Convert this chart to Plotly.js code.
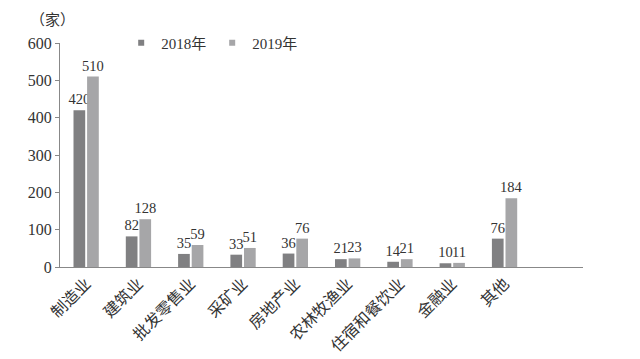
<!DOCTYPE html>
<html><head><meta charset="utf-8">
<script src="https://cdn.plot.ly/plotly-3.0.1.min.js"></script>
<style>html,body{margin:0;padding:0;background:#fff;}#chart{width:640px;height:359px;}</style>
</head><body><div id="chart"></div>
<script>
const categories = ["制造业","建筑业","批发零售业","采矿业","房地产业","农林牧渔业","住宿和餐饮业","金融业","其他"];
const values2018 = [420,82,35,33,36,21,14,10,76];
const values2019 = [510,128,59,51,76,23,21,11,184];
const seriesNames = ["2018年","2019年"];
const seriesColors = ["#808082","#a6a6a8"];
const yTicks = [0,100,200,300,400,500,600];

const FONT = "Liberation Serif, Noto Sans CJK SC, serif";
const labelFont = {family:FONT,size:14.5,color:"#333"};
const traces = [
  {type:"bar", name:seriesNames[0], x:categories, y:values2018, marker:{color:seriesColors[0]},
   text:values2018.map(String), textposition:"outside", cliponaxis:false, constraintext:"none",
   textfont:labelFont, outsidetextfont:labelFont, showlegend:false},
  {type:"bar", name:seriesNames[1], x:categories, y:values2019, marker:{color:seriesColors[1]},
   text:values2019.map(String), textposition:"outside", cliponaxis:false, constraintext:"none",
   textfont:labelFont, outsidetextfont:labelFont, showlegend:false},
  {type:"scatter", mode:"markers", name:seriesNames[0], x:[null], y:[null],
   marker:{symbol:"square", size:6, color:seriesColors[0]}, showlegend:true},
  {type:"scatter", mode:"markers", name:seriesNames[1], x:[null], y:[null],
   marker:{symbol:"square", size:6, color:seriesColors[1]}, showlegend:true}
];
const layout = {
  width:640, height:359,
  margin:{l:60,r:57,t:43,b:92},
  paper_bgcolor:"#fff", plot_bgcolor:"#fff",
  font:{family:FONT,size:14,color:"#333"},
  barmode:"group", bargap:0.48, bargroupgap:0.14,
  showlegend:true,
  uniformtext:{mode:false},
  legend:{orientation:"h", x:0.117, y:1.0, xanchor:"left", yanchor:"middle",
    font:{family:FONT,size:15,color:"#333"}, itemwidth:30, entrywidth:46, entrywidthmode:"pixels",
    tracegroupgap:0, bgcolor:"rgba(0,0,0,0)"},
  xaxis:{type:"category", range:[-0.5,9.5], tickangle:-45, showline:true, linecolor:"#888", linewidth:1,
    ticks:"", showgrid:false, zeroline:false, tickfont:{family:FONT,size:16,color:"#333"}},
  yaxis:{range:[0,600], tickvals:yTicks, ticktext:yTicks.map(String), showline:true, linecolor:"#888", linewidth:1,
    ticks:"outside", ticklen:4, tickcolor:"#888", showgrid:false, zeroline:false,
    tickfont:{family:FONT,size:16,color:"#333"}},
  annotations:[{text:"（家）", xref:"paper", yref:"paper", x:-0.014, y:1.11, xanchor:"center", yanchor:"middle",
    showarrow:false, font:{family:"Noto Sans CJK SC, serif",size:15,color:"#333"}}]
};
Plotly.newPlot("chart", traces, layout, {displayModeBar:false, staticPlot:true});
</script></body></html>
